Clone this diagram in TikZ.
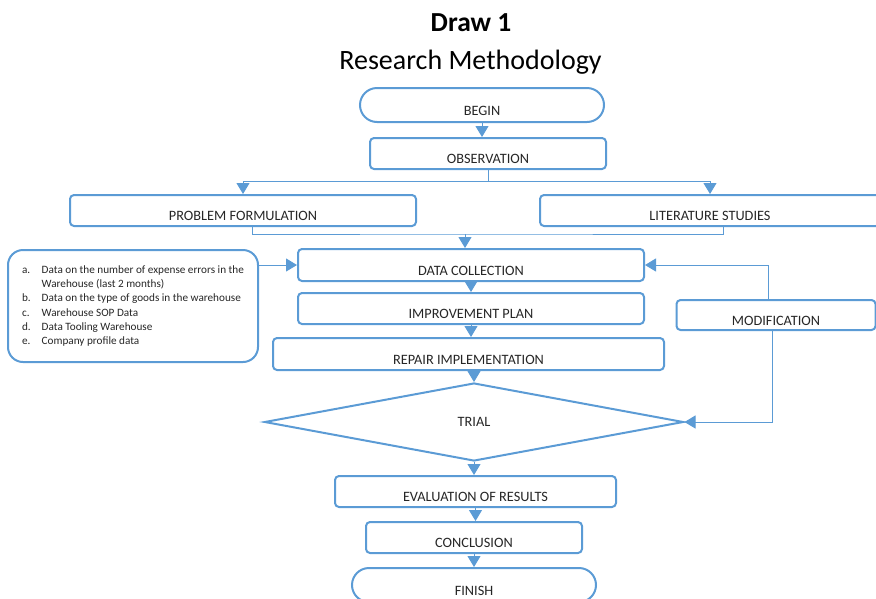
\documentclass[tikz,border=0pt]{standalone}
\usepackage{fontspec}
\setmainfont{Carlito}
\usetikzlibrary{arrows.meta,shapes.geometric}
\definecolor{flowblue}{HTML}{5B9BD5}
\begin{document}
\begin{tikzpicture}[x=1pt,y=-1pt,every node/.style={text=black!85,font=\fontsize{14.3}{17}\selectfont},
box/.style={draw=flowblue,line width=2pt,rounded corners=4pt,minimum height=31pt,inner sep=2pt,text height=20.6pt,text depth=0pt},
term/.style={box,rounded corners=17pt,minimum height=34pt},
listbox/.style={draw=flowblue,line width=2pt,rounded corners=15pt,minimum width=250pt,minimum height=112pt,inner sep=0pt,align=left,font=\fontsize{11.2}{14.3}\selectfont},
conn/.style={flowblue,line width=1pt},arr/.style={conn,-{Triangle[width=13pt,length=11pt]}}]
\useasboundingbox (0,0) rectangle (876,598);
\node[anchor=base,text=black,font=\fontsize{27.5}{32}\selectfont\bfseries] (title) at (471,31.5) {Draw 1};
\node[anchor=base,text=black,font=\fontsize{28}{33}\selectfont] (subtitle) at (470.5,69) {Research Methodology};
\node[term,minimum width=244pt] (begin) at (482,105) {BEGIN};\node[box,minimum width=236pt] (obs) at (488,153.5) {OBSERVATION};
\node[box,minimum width=346pt] (prob) at (243,210.5) {PROBLEM FORMULATION};\node[box,minimum width=340pt] (lit) at (710,210.5) {LITERATURE STUDIES};
\node[box,minimum width=346pt,minimum height=32pt] (dc) at (471,265) {DATA COLLECTION};\node[box,minimum width=346pt] (imp) at (471,308.5) {IMPROVEMENT PLAN};
\node[box,minimum width=391pt,minimum height=32pt] (rep) at (468.5,354) {REPAIR IMPLEMENTATION};\node[box,minimum width=199pt,minimum height=30pt] (mod) at (776,315) {MODIFICATION};
\node[draw=flowblue,line width=2pt,diamond,aspect=5.4,minimum width=419pt,minimum height=78pt,inner sep=0pt] (trial) at (474,422) {TRIAL};
\node[box,minimum width=281pt] (eval) at (475.5,491.5) {EVALUATION OF RESULTS};\node[box,minimum width=216pt] (concl) at (474,537.5) {CONCLUSION};
\node[term,minimum width=244pt] (finish) at (474,585) {FINISH};
\node[listbox] (info) at (133,306) {\begin{tabular}{@{}p{19.7pt}@{}l@{}}
a. & Data on the number of expense errors in the\\ & Warehouse (last 2 months)\\
b. & Data on the type of goods in the warehouse\\ c. & Warehouse SOP Data\\
d. & Data Tooling Warehouse\\ e. & Company profile data\end{tabular}};
\coordinate (split) at (488,181);\coordinate (join) at (465,234);
\draw[arr] (begin) -- (begin |- obs.north);\draw[conn] (obs) -- (split);\draw[arr] (split) -| (prob);\draw[arr] (split) -| (lit);
\draw[conn] ([xshift=9pt]prob.south) |- (join) -| ([xshift=13pt]lit.south);\draw[arr] (join) -- (join |- dc.north);
\draw[arr] (info.east |- dc) -- (dc);\draw[arr] (dc) -- (dc |- imp.north);\draw[arr] (imp) -- (imp |- rep.north);
\draw[arr] (trial.north |- rep.south) -- (trial);\draw[arr] ([xshift=-8pt]mod.north) |- (dc);\draw[arr] ([xshift=-4pt]mod.south) |- (trial);
\draw[arr] (trial) -- (trial |- eval.north);\draw[arr] (eval) -- (eval |- concl.north);\draw[arr] (concl) -- (concl |- finish.north);
\end{tikzpicture}
\end{document}
